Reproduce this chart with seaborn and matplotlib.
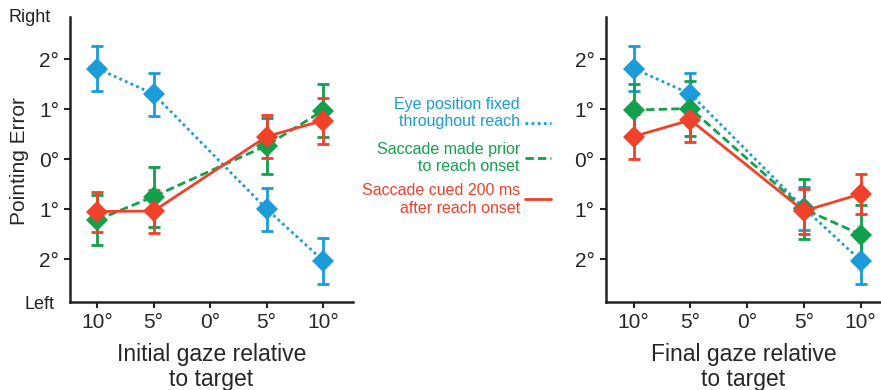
import matplotlib
matplotlib.use("Agg")
import matplotlib.pyplot as plt
import pandas as pd
import seaborn as sns

# gaze offsets (deg), left = negative
gaze = [-10, -5, 5, 10]
tick_pos = [-10, -5, 0, 5, 10]
tick_labels = ["10°", "5°", "0°", "5°", "10°"]
ytick_pos = [-2, -1, 0, 1, 2]
ytick_labels = ["2°", "1°", "0°", "1°", "2°"]

# initial gaze panel
init_fixed = [1.81, 1.30, -1.00, -2.03]
init_fixed_err = [0.45, 0.43, 0.43, 0.46]
init_prior = [-1.22, -0.75, 0.27, 0.97]
init_prior_err = [0.50, 0.60, 0.56, 0.53]
init_cued = [-1.05, -1.04, 0.45, 0.77]
init_cued_err = [0.40, 0.43, 0.43, 0.46]

# final gaze panel
final_fixed = [1.81, 1.30, -0.98, -2.03]
final_fixed_err = [0.45, 0.43, 0.43, 0.46]
final_prior = [0.98, 1.01, -1.00, -1.51]
final_prior_err = [0.53, 0.55, 0.60, 0.59]
final_cued = [0.45, 0.78, -1.04, -0.70]
final_cued_err = [0.45, 0.44, 0.45, 0.40]

conditions = ["Eye position fixed\nthroughout reach",
              "Saccade made prior\nto reach onset",
              "Saccade cued 200 ms\nafter reach onset"]
colors = ["#1b9bd7", "#12a04c", "#f0412b"]
styles = [(0, (1, 1.2)), (0, (3, 1.5)), "-"]

sns.set_theme(style="white")
plt.rcParams["font.family"] = ["Liberation Sans", "DejaVu Sans"]

fig = plt.figure(figsize=(8.81, 3.9), dpi=100)
ax1 = fig.add_axes([0.0795, 0.2256, 0.3212, 0.7308])
ax2 = fig.add_axes([0.6875, 0.2256, 0.3125, 0.7308])


def draw_panel(ax, series, xlim, xlabel):
    for (vals, errs), col, ls in zip(series, colors, styles):
        d = pd.DataFrame({"gaze": gaze, "err": vals})
        ax.errorbar(d["gaze"], d["err"], yerr=errs, fmt="none", ecolor=col,
                    elinewidth=2, capsize=4.5, capthick=2, zorder=2)
        sns.lineplot(data=d, x="gaze", y="err", ax=ax, color=col,
                     linestyle=ls, linewidth=2, marker="D", markersize=11,
                     markeredgewidth=0, zorder=3)
    ax.set_xlim(*xlim)
    ax.set_ylim(-2.86, 2.84)
    ax.set_xticks(tick_pos)
    ax.set_xticklabels(tick_labels, fontsize=15)
    ax.set_yticks(ytick_pos)
    ax.set_yticklabels(ytick_labels, fontsize=15)
    ax.set_xlabel(xlabel, fontsize=16.5, labelpad=8, linespacing=1.12)
    ax.set_ylabel("")
    for s in ["top", "right"]:
        ax.spines[s].set_visible(False)
    for s in ["left", "bottom"]:
        ax.spines[s].set_color("#222222")
        ax.spines[s].set_linewidth(1.8)
    ax.tick_params(direction="out", length=4, width=1.5, color="#222222",
                   left=True, bottom=True, pad=4)


draw_panel(ax1, [(init_fixed, init_fixed_err), (init_prior, init_prior_err),
                 (init_cued, init_cued_err)], (-12.4, 12.65),
           "Initial gaze relative\nto target")
draw_panel(ax2, [(final_fixed, final_fixed_err), (final_prior, final_prior_err),
                 (final_cued, final_cued_err)], (-12.47, 11.8),
           "Final gaze relative\nto target")

ax1.set_ylabel("Pointing Error", fontsize=15)
ax1.yaxis.set_label_coords(-0.145, 0.495)
fig.text(0.010, 0.955, "Right", fontsize=13, color="#222222", va="center")
fig.text(0.028, 0.2205, "Left", fontsize=13, color="#222222", va="center")

# legend drawn as text + sample lines
text_y = [0.710, 0.595, 0.488]
line_y = [0.685, 0.595, 0.490]
for label, col, ls, ty, ly in zip(conditions, colors, styles, text_y, line_y):
    fig.text(0.590, ty, label, fontsize=11.5, color=col, ha="right",
             va="center", linespacing=1.2)
    fig.add_artist(plt.Line2D([0.596, 0.625], [ly, ly],
                              color=col, linestyle=ls, linewidth=2))

fig.savefig("out.png", dpi=100)
